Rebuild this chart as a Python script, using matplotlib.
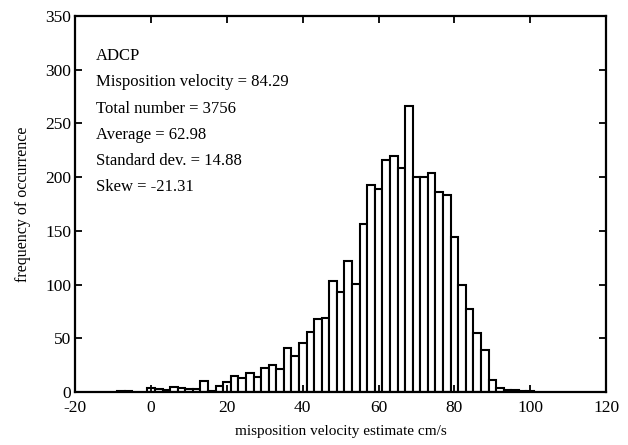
import matplotlib
matplotlib.use("Agg")
import matplotlib.pyplot as plt
import numpy as np

# bin centres (cm/s) and counts
centres = [-8, -6, 0, 2, 4, 6, 8, 10, 12, 14, 16, 18, 20, 22, 24, 26, 28, 30, 32, 34,
           36, 38, 40, 42, 44, 46, 48, 50, 52, 54, 56, 58, 60, 62, 64, 66, 68, 70,
           72, 74, 76, 78, 80, 82, 84, 86, 88, 90, 92, 94, 96, 98, 100]
counts = [1, 1, 4, 3, 2, 5, 4, 3, 3, 10, 1, 6, 9, 15, 13, 18, 14, 22, 25, 21,
          41, 34, 46, 56, 68, 69, 103, 93, 122, 101, 156, 193, 189, 216, 220, 209, 266, 200,
          200, 204, 186, 183, 144, 100, 77, 55, 39, 11, 4, 2, 2, 1, 1]
bin_width = 2

info_lines = ["ADCP",
              "Misposition velocity = 84.29",
              "Total number = 3756",
              "Average = 62.98",
              "Standard dev. = 14.88",
              "Skew = -21.31"]

plt.rcParams['font.family'] = ['Liberation Serif', 'DejaVu Serif']
plt.rcParams['axes.unicode_minus'] = False

fig = plt.figure(figsize=(6.28, 4.45), dpi=100)
ax = fig.add_axes([0.120, 0.119, 0.845, 0.845])

ax.bar(centres, counts, width=bin_width, color='white', edgecolor='black', linewidth=1.5)

ax.set_xlim(-20, 120)
ax.set_ylim(0, 350)
ax.set_xticks(np.arange(-20, 121, 20))
ax.set_yticks(np.arange(0, 351, 50))
ax.tick_params(direction='in', length=5, width=1.3, top=True, right=True, labelsize=12.5)
ax.tick_params(axis='x', pad=6)
ax.tick_params(axis='y', pad=3)
for s in ax.spines.values():
    s.set_linewidth(1.6)

ax.set_xlabel("misposition velocity estimate cm/s", fontsize=11, labelpad=6)
ax.set_ylabel("frequency of occurrence", fontsize=11.5, labelpad=10)

# text block in the upper left
for i, line in enumerate(info_lines):
    ax.text(0.039, 0.893 - i * 0.0695, line, transform=ax.transAxes,
            fontsize=12, va='center', ha='left')

fig.savefig("out.png", dpi=100)
